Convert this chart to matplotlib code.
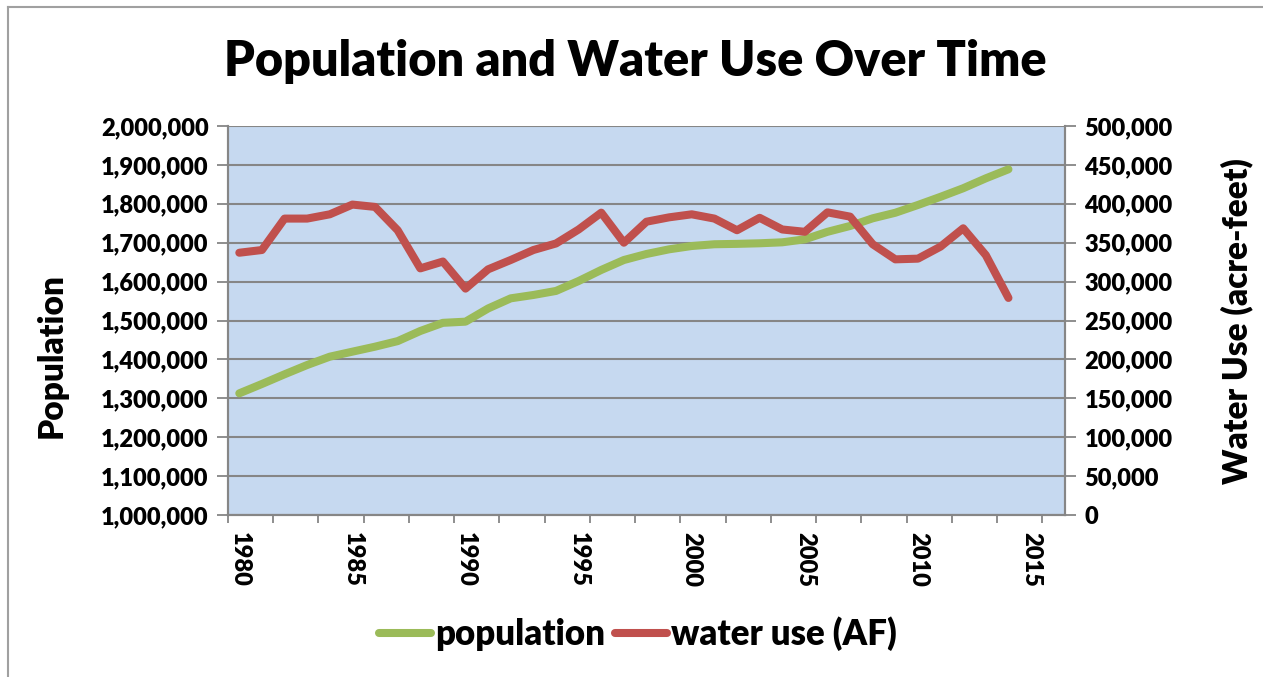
import matplotlib
matplotlib.use("Agg")
import matplotlib.pyplot as plt
from matplotlib.lines import Line2D
from matplotlib.ticker import FuncFormatter, MultipleLocator
import numpy as np

years = list(range(1980, 2015))
population = [1312800, 1336800, 1361700, 1385600, 1407000, 1419900, 1432700, 1447000,
              1473000, 1494000, 1497000, 1531000, 1557000, 1565600, 1576000, 1601500,
              1630000, 1655500, 1671000, 1683000, 1691500, 1696000, 1697000, 1698500,
              1701000, 1708700, 1728000, 1743000, 1762700, 1777000, 1797000, 1818000,
              1840000, 1865500, 1888700]
water_use = [337100, 340600, 381000, 381000, 386500, 399000, 396000, 366000,
             317000, 325800, 291000, 315800, 327800, 340600, 349000, 367000,
             388600, 350000, 377000, 382600, 386500, 381000, 366000, 382000,
             367000, 364000, 389000, 383500, 348000, 328600, 329500, 345000,
             368500, 334000, 279000]
year_labels = [1980, 1985, 1990, 1995, 2000, 2005, 2010, 2015]

GREEN = "#9BBB59"
RED = "#C0504D"
GRAY = "#868686"
W = "heavy"

plt.rcParams["font.family"] = ["Lato", "DejaVu Sans"]
plt.rcParams["font.weight"] = W

fig = plt.figure(figsize=(12.63, 6.77), dpi=100)
ax = fig.add_axes([228 / 1263, 1 - 515 / 677, (1065 - 228) / 1263, (515 - 126) / 677])
ax2 = ax.twinx()

ax.set_facecolor("#C6D9F0")
ax.plot(years, population, color=GREEN, lw=5.8, solid_capstyle="round",
        solid_joinstyle="round", label="population")
ax2.plot(years, water_use, color=RED, lw=5.8, solid_capstyle="round",
         solid_joinstyle="round", label="water use (AF)")

ax.set_xlim(1979.5, 2016.5)
ax.set_ylim(1000000, 2000000)
ax2.set_ylim(0, 500000)
ax.yaxis.set_major_locator(MultipleLocator(100000))
ax2.yaxis.set_major_locator(MultipleLocator(50000))
comma = FuncFormatter(lambda v, p: f"{int(v):,}")
ax.yaxis.set_major_formatter(comma)
ax2.yaxis.set_major_formatter(comma)

# year labels in the middle of categories, tick marks on every second boundary
ax.set_xticks(year_labels)
ax.set_xticklabels([str(y) for y in year_labels], rotation=-90, fontsize=17,
                   fontweight=W)
ax.set_xticks(np.arange(1979.5, 2017, 2), minor=True)
ax.tick_params(axis="x", which="major", length=0, pad=12)
ax.tick_params(axis="x", which="minor", length=6, width=1.3, color=GRAY)

ax.tick_params(axis="y", length=8, width=1.3, color=GRAY, labelsize=17, pad=6)
ax2.tick_params(axis="y", length=8, width=1.3, color=GRAY, labelsize=17, pad=6)
for lab in ax.get_yticklabels() + ax2.get_yticklabels():
    lab.set_fontweight(W)

ax.grid(axis="y", color=GRAY, lw=1.5)
ax.set_axisbelow(True)
for a in (ax, ax2):
    for s in a.spines.values():
        s.set_color(GRAY)
        s.set_linewidth(1.5)
    a.spines["top"].set_visible(False)

ax.set_ylabel("Population", fontsize=24, fontweight=W)
ax2.set_ylabel("Water Use (acre-feet)", fontsize=24, fontweight=W, rotation=90)
ax.yaxis.set_label_coords((52 - 228) / 837, (515 - 355) / 389)
ax2.yaxis.set_label_coords((1237 - 228) / 837, (515 - 321) / 389)
ax.yaxis.label.set_va("center")
ax2.yaxis.label.set_va("center")

fig.text(0.503, 1 - 62 / 677, "Population and Water Use Over Time", ha="center",
         va="center", fontsize=35, fontweight=W)

handles = ax.get_lines() + ax2.get_lines()
fig.legend(handles, [h.get_label() for h in handles], loc="center",
           bbox_to_anchor=(0.505, 1 - 634 / 677), ncol=2, frameon=False,
           prop={"size": 25, "weight": W}, handlelength=1.5,
           handletextpad=0.1, columnspacing=0.3)

# chart border
fig.add_artist(Line2D([8 / 1263, 8 / 1263], [0, 1 - 7 / 677], color="#A0A0A0", lw=1.5))
fig.add_artist(Line2D([8 / 1263, 1], [1 - 7 / 677, 1 - 7 / 677], color="#A0A0A0", lw=1.5))

fig.savefig("out.png", dpi=100)
